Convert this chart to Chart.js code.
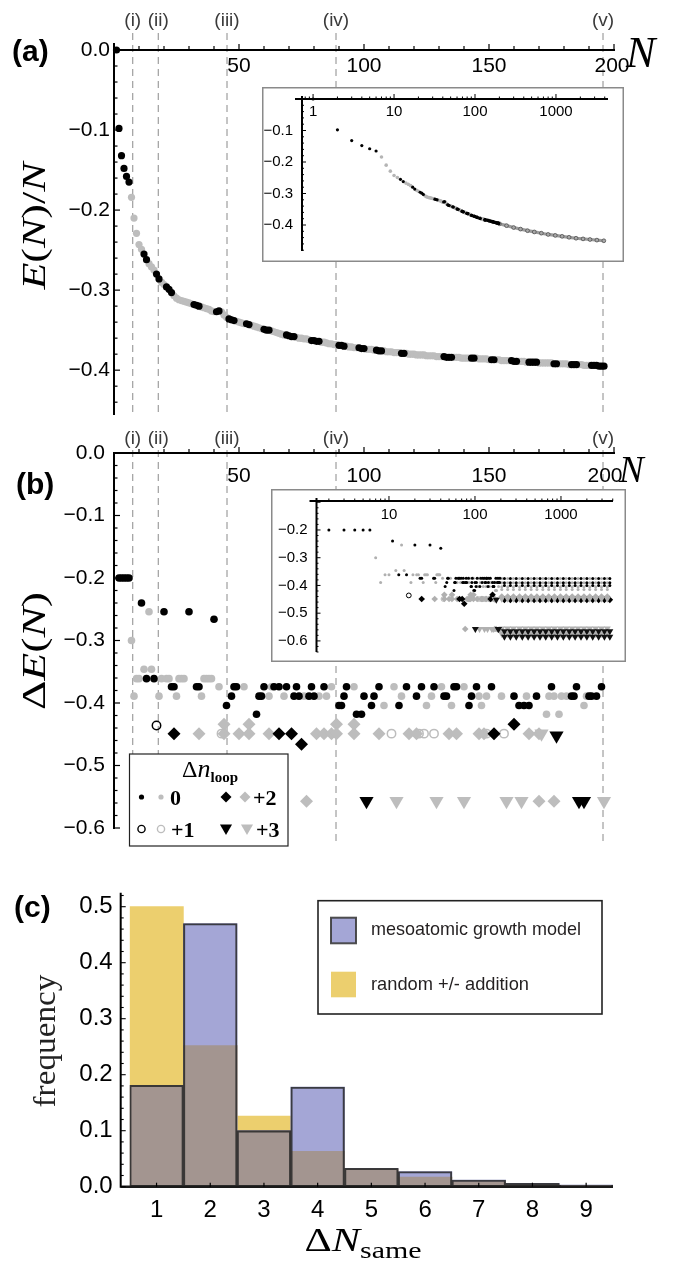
<!DOCTYPE html>
<html>
<head>
<meta charset="utf-8">
<script src="https://cdn.jsdelivr.net/npm/chart.js@4.4.1/dist/chart.umd.min.js"></script>
<style>
  html, body { margin: 0; padding: 0; background: #fff; }
  #page { position: relative; width: 682px; height: 1262px; overflow: hidden; background: #fff; }
  canvas { position: absolute; }
</style>
</head>
<body>
<div id="page">
  <canvas id="mainA" width="682" height="430" style="left:0;top:0"></canvas>
  <canvas id="insetA" width="362" height="175" style="left:262px;top:87px"></canvas>
  <canvas id="mainB" width="682" height="432" style="left:0;top:430px"></canvas>
  <canvas id="insetB" width="355" height="173" style="left:271px;top:489px"></canvas>
  <canvas id="histC" width="682" height="400" style="left:0;top:862px"></canvas>
</div>
<script>
const SANS = '"Liberation Sans", Arial, Helvetica, sans-serif';
const SERIF = '"Liberation Serif", "Times New Roman", serif';
const MINUS = '\u2212';

// ---- panel (a): energy per atom, one value per N starting at N = 1
const firstN = 1;
const energyPerAtom = [
  0, -0.098, -0.132, -0.148, -0.158, -0.165, -0.184, -0.210, -0.229, -0.243,
  -0.249, -0.255, -0.262, -0.267, -0.271, -0.275, -0.280, -0.286, -0.290, -0.293,
  -0.296, -0.299, -0.303, -0.307, -0.310, -0.312, -0.313, -0.314, -0.315, -0.316,
  -0.317, -0.318, -0.319, -0.320, -0.321, -0.322, -0.323, -0.324, -0.326, -0.327,
  -0.327, -0.326, -0.327, -0.331, -0.334, -0.336, -0.337, -0.338, -0.339, -0.340,
  -0.341, -0.342, -0.342, -0.343, -0.344, -0.345, -0.346, -0.347, -0.348, -0.349,
  -0.350, -0.350, -0.351, -0.352, -0.353, -0.354, -0.355, -0.356, -0.356, -0.357,
  -0.358, -0.358, -0.359, -0.360, -0.360, -0.361, -0.361, -0.362, -0.363, -0.363,
  -0.364, -0.364, -0.365, -0.365, -0.366, -0.367, -0.367, -0.368, -0.368, -0.369,
  -0.369, -0.370, -0.370, -0.371, -0.371, -0.372, -0.372, -0.372, -0.373, -0.373,
  -0.374, -0.374, -0.374, -0.375, -0.375, -0.376, -0.376, -0.376, -0.377, -0.377,
  -0.377, -0.378, -0.378, -0.378, -0.379, -0.379, -0.379, -0.380, -0.380, -0.380,
  -0.381, -0.381, -0.381, -0.381, -0.382, -0.382, -0.382, -0.382, -0.383, -0.383,
  -0.383, -0.383, -0.384, -0.384, -0.384, -0.384, -0.384, -0.384, -0.385, -0.385,
  -0.385, -0.385, -0.385, -0.385, -0.385, -0.386, -0.386, -0.386, -0.386, -0.387,
  -0.387, -0.387, -0.387, -0.387, -0.388, -0.388, -0.388, -0.388, -0.388, -0.389,
  -0.389, -0.389, -0.389, -0.389, -0.390, -0.390, -0.390, -0.390, -0.390, -0.391,
  -0.391, -0.391, -0.391, -0.391, -0.391, -0.392, -0.392, -0.392, -0.392, -0.392,
  -0.392, -0.393, -0.393, -0.393, -0.393, -0.393, -0.393, -0.394, -0.394, -0.394,
  -0.394, -0.394, -0.394, -0.395, -0.395, -0.395
];
// N ranges drawn black (the rest is gray)
const blackRuns = [[1, 6], [12, 13], [17, 18], [21, 23], [32, 34], [41, 42], [46, 48], [53, 54],
  [60, 62], [69, 72], [79, 82], [90, 92], [98, 100], [105, 107], [115, 116], [132, 135],
  [143, 144], [151, 152], [159, 161], [166, 169], [176, 177], [183, 185], [191, 196]];
// inset (a) continues to large N
const tailN = [200, 245, 300, 365, 445, 540, 660, 800, 980, 1190, 1450, 1770, 2160, 2630, 3200, 3900];
const tailEnergy = [-0.396, -0.402, -0.408, -0.413, -0.418, -0.422, -0.426, -0.430, -0.433, -0.436,
  -0.439, -0.442, -0.444, -0.446, -0.448, -0.450];

const guideN = [7.5, 17.7, 45.2, 88.8, 195.6];
const guideLabels = ['(i)', '(ii)', '(iii)', '(iv)', '(v)'];

// ---- panel (b): energy step per added atom, by loop change
const dotBlack = [[2, -0.2], [3, -0.2], [4, -0.2], [5, -0.2], [6, -0.2], [11, -0.24], [20, -0.254],
  [30, -0.254], [40, -0.266], [13, -0.361], [16, -0.361], [23, -0.374], [24, -0.374], [33, -0.374],
  [34, -0.374], [45, -0.404], [47, -0.389], [48, -0.374], [49, -0.374], [57, -0.418], [58, -0.389],
  [59, -0.389], [60, -0.374], [64, -0.374], [66, -0.374], [69, -0.374], [72, -0.389], [73, -0.374],
  [74, -0.389], [78, -0.389], [79, -0.374], [80, -0.389], [84, -0.374], [90, -0.404], [91, -0.404],
  [92, -0.389], [93, -0.374], [97, -0.418], [99, -0.418], [100, -0.389], [103, -0.404], [104, -0.389],
  [106, -0.374], [114, -0.404], [117, -0.374], [121, -0.389], [123, -0.374], [128, -0.374],
  [132, -0.389], [133, -0.389], [136, -0.374], [137, -0.374], [142, -0.404], [143, -0.389],
  [145, -0.374], [151, -0.374], [160, -0.389], [162, -0.404], [164, -0.404], [166, -0.404],
  [169, -0.389], [175, -0.374], [183, -0.389], [184, -0.389], [185, -0.374], [190, -0.389],
  [191, -0.389], [193, -0.389], [195, -0.374]];
const dotGray = [[7, -0.3], [8, -0.389], [9, -0.361], [10, -0.361], [12, -0.346], [14, -0.254],
  [15, -0.346], [18, -0.389], [19, -0.361], [21, -0.361], [22, -0.361], [25, -0.389], [26, -0.361],
  [27, -0.361], [28, -0.361], [35, -0.389], [36, -0.361], [37, -0.361], [38, -0.361], [39, -0.361],
  [42, -0.374], [52, -0.374], [62, -0.389], [63, -0.374], [68, -0.389], [76, -0.389], [82, -0.389],
  [85, -0.389], [87, -0.374], [96, -0.374], [108, -0.404], [112, -0.374], [115, -0.389],
  [125, -0.404], [127, -0.389], [131, -0.374], [135, -0.404], [140, -0.374], [146, -0.389],
  [147, -0.404], [149, -0.389], [155, -0.389], [165, -0.389], [173, -0.418], [174, -0.389],
  [176, -0.389], [178, -0.418], [179, -0.389], [181, -0.389], [188, -0.404], [189, -0.389]];
const ringBlack = [[17, -0.436]];
const ringGray = [[43, -0.449], [111, -0.449], [122, -0.449], [124, -0.449], [128, -0.449],
  [149, -0.449], [156, -0.449]];
const diamondBlack = [[24, -0.449], [66, -0.449], [71, -0.449], [75, -0.466], [152, -0.449], [160, -0.434]];
const diamondGray = [[34, -0.449], [44, -0.434], [44, -0.449], [50, -0.449], [54, -0.434], [54, -0.449],
  [62, -0.449], [81, -0.449], [84, -0.449], [87, -0.449], [89, -0.434], [89, -0.449], [96, -0.434],
  [96, -0.449], [106, -0.449], [118, -0.449], [121, -0.449], [134, -0.449], [137, -0.449],
  [146, -0.449], [148, -0.449], [166, -0.449], [170, -0.449], [77, -0.557], [170, -0.557], [176, -0.557]];
const triBlack = [[177, -0.452], [101, -0.557], [186, -0.557], [188, -0.557]];
const triGray = [[171, -0.449], [113, -0.557], [129, -0.557], [140, -0.557], [157, -0.557],
  [163, -0.557], [196, -0.557]];
// inset (b): dense bands at large N
const bandGrayN = [205, 240, 280, 330, 385, 450, 525, 615, 720, 840, 985, 1150, 1350, 1580, 1850, 2160, 2530, 2960, 3460];
const bandBlackN = [220, 258, 302, 355, 415, 487, 570, 665, 780, 910, 1065, 1250, 1460, 1710, 2000, 2340, 2740, 3200, 3700];
const bandDotGray = [-0.375, -0.39, -0.405, -0.415];
const bandDotBlack = [-0.375, -0.39, -0.40];
const bandDiamondGray = [-0.44];
const bandDiamondBlack = [-0.452];
const bandTriGray = [-0.448, -0.555, -0.575];
const bandTriBlack = [-0.565, -0.585];

// ---- panel (c): histogram of Delta N_same
const binLabels = ['1', '2', '3', '4', '5', '6', '7', '8', '9'];
const mesoGrowth = [0.181, 0.470, 0.100, 0.178, 0.033, 0.027, 0.012, 0.006, 0.003];
const randomAdd = [0.500, 0.252, 0.126, 0.063, 0.032, 0.017, 0.009, 0.004, 0.002];

// ---- tick labels
const aTicksX = [50, 100, 150, 200];
const aTicksY = [0, -0.1, -0.2, -0.3, -0.4];
const bTicksY = [0, -0.1, -0.2, -0.3, -0.4, -0.5, -0.6];
const insetATicksX = [1, 10, 100, 1000];
const insetBTicksX = [10, 100, 1000];
const insetATicksY = [-0.1, -0.2, -0.3, -0.4];
const insetBTicksY = [-0.2, -0.3, -0.4, -0.5, -0.6];
const cTicksY = [0, 0.1, 0.2, 0.3, 0.4, 0.5];

const GRAY = '#bdbdbd';

// ---------- helpers ----------
const fmt1 = v => (v < -1e-9 ? MINUS : '') + Math.abs(v).toFixed(1);
const isMajor = v => Math.abs(v * 10 - Math.round(v * 10)) < 1e-6;

function linearTicks(from, to, step) {
  const out = [];
  const n = Math.round((to - from) / step);
  for (let i = 0; i <= n; i++) out.push(+(from + i * step).toFixed(6));
  return out;
}

function seg(ctx, x1, y1, x2, y2, w, color, dash) {
  ctx.save();
  ctx.beginPath();
  ctx.lineWidth = w;
  ctx.strokeStyle = color;
  ctx.setLineDash(dash || []);
  ctx.moveTo(x1, y1);
  ctx.lineTo(x2, y2);
  ctx.stroke();
  ctx.restore();
}

function text(ctx, t, x, y, font, align, base, color) {
  ctx.save();
  ctx.font = font;
  ctx.textAlign = align || 'left';
  ctx.textBaseline = base || 'alphabetic';
  ctx.fillStyle = color || '#000';
  ctx.fillText(t, x, y);
  ctx.restore();
}

// text made of several font runs, centred on (cx, baseline cy), optionally squeezed to width
function runs(ctx, parts, cx, cy, width, rot, color) {
  ctx.save();
  ctx.translate(cx, cy);
  if (rot) ctx.rotate(rot);
  let w = 0;
  parts.forEach(p => { ctx.font = p.font; w += ctx.measureText(p.t).width; });
  if (width) ctx.scale(width / w, 1);
  ctx.fillStyle = color || '#000';
  ctx.textBaseline = 'alphabetic';
  ctx.textAlign = 'left';
  let x = -w / 2;
  parts.forEach(p => {
    ctx.font = p.font;
    ctx.fillText(p.t, x, p.dy || 0);
    x += ctx.measureText(p.t).width;
  });
  ctx.restore();
}

function mark(ctx, shape, x, y, r, fill, stroke, rot) {
  ctx.save();
  ctx.fillStyle = fill;
  ctx.strokeStyle = stroke || fill;
  ctx.lineWidth = stroke ? 1.4 : 0;
  Chart.helpers.drawPoint(ctx, { pointStyle: shape, radius: r, rotation: rot || 0, borderWidth: stroke ? 1.4 : 0 }, x, y);
  ctx.restore();
}

const lin = (min, max) => ({ type: 'linear', min, max, bounds: 'data', display: false });
const logx = (min, max) => ({ type: 'logarithmic', min, max, bounds: 'data', display: false });

function baseOptions(pad, scales) {
  return {
    responsive: false,
    animation: false,
    events: [],
    layout: { padding: pad },
    plugins: { legend: { display: false }, tooltip: { enabled: false } },
    scales
  };
}

const toXY = arr => arr.map(p => ({ x: p[0], y: p[1] }));

function marks(arr, shape, r, fill, order, opts) {
  const o = opts || {};
  return {
    data: toXY(arr),
    pointStyle: shape,
    pointRotation: o.rot || 0,
    pointRadius: r,
    pointBackgroundColor: o.hollow ? 'rgba(0,0,0,0)' : fill,
    pointBorderColor: fill,
    pointBorderWidth: o.hollow ? (o.bw || 1.5) : 0,
    clip: false,
    order
  };
}

const bands = (ns, levels) => levels.flatMap(l => ns.map(n => [n, l]));

// ---------- panel (a) ----------
const isBlack = n => blackRuns.some(r => n >= r[0] && n <= r[1]);
const aPairs = energyPerAtom.map((e, i) => [firstN + i, e]);
const aBlack = aPairs.filter(p => isBlack(p[0]));
const aGray = aPairs.filter(p => !isBlack(p[0]));

const panelA = {
  id: 'panelA',
  beforeDatasetsDraw(chart) {
    const { ctx, scales: { x } } = chart;
    guideN.forEach(n => {
      const p = x.getPixelForValue(n);
      seg(ctx, p, 33, p, 417, 1, '#8a8a8a', [7, 5]);
    });
  },
  afterDatasetsDraw(chart) {
    const { ctx, scales: { x, y } } = chart;
    const ox = x.getPixelForValue(0), oy = y.getPixelForValue(0);
    const yb = y.getPixelForValue(y.min), xr = x.getPixelForValue(200);
    seg(ctx, ox, oy - 7, ox, yb, 2, '#000');
    seg(ctx, ox - 1, oy, xr + 1, oy, 2, '#000');
    linearTicks(10, 200, 10).forEach(v => {
      const p = x.getPixelForValue(v);
      seg(ctx, p, oy, p, oy - (aTicksX.includes(v) ? 6 : 4), 1.2, '#000');
    });
    aTicksX.forEach(v => text(ctx, String(v), x.getPixelForValue(v) - (v === 200 ? 2 : 0), oy + 22, `21px ${SANS}`, 'center'));
    linearTicks(-0.44, 0, 0.02).forEach(v => {
      const p = y.getPixelForValue(v);
      seg(ctx, ox, p, ox + (isMajor(v) ? 6 : 3.5), p, 1.2, '#000');
    });
    aTicksY.forEach(v => text(ctx, fmt1(v), ox - 4, y.getPixelForValue(v), `21px ${SANS}`, 'right', 'middle'));
    guideN.forEach((n, i) => text(ctx, guideLabels[i], x.getPixelForValue(n), 26, `19px ${SANS}`, 'center', 'alphabetic', '#3a3a3a'));
    text(ctx, '(a)', 12, 61, `bold 30px ${SANS}`);
    text(ctx, 'N', 626, 67, `italic 44px ${SERIF}`);
    runs(ctx, [
      { t: 'E', font: `italic 34px ${SERIF}` }, { t: '(', font: `34px ${SERIF}` },
      { t: 'N', font: `italic 34px ${SERIF}` }, { t: ')', font: `34px ${SERIF}` },
      { t: '/', font: `34px ${SERIF}` }, { t: 'N', font: `italic 34px ${SERIF}` }
    ], 45, 226, 127, -Math.PI / 2);
  }
};

new Chart(document.getElementById('mainA'), {
  type: 'scatter',
  data: {
    datasets: [
      marks(aBlack, 'circle', 3.6, '#000', 1),
      marks(aGray, 'circle', 3.6, GRAY, 2)
    ]
  },
  options: baseOptions({ left: 114, right: 68, top: 50, bottom: 15 }, { x: lin(0, 200), y: lin(-0.456, 0) }),
  plugins: [panelA]
});

// ---------- insets ----------
function insetFrame(cfg) {
  return {
    id: 'insetFrame',
    beforeDraw(chart) {
      const { ctx, width, height } = chart;
      ctx.save();
      ctx.fillStyle = '#fff';
      ctx.fillRect(0, 0, width, height);
      ctx.strokeStyle = '#8a8a8a';
      ctx.lineWidth = 1.5;
      ctx.strokeRect(0.75, 0.75, width - 1.5, height - 1.5);
      ctx.restore();
    },
    afterDatasetsDraw(chart) {
      const { ctx, chartArea: ca, scales: { x, y } } = chart;
      const ox = ca.left, oy = ca.top;
      seg(ctx, ox - 7, oy, ca.right, oy, 2, '#000');
      seg(ctx, ox, oy - 3, ox, ca.bottom, 2, '#000');
      [0.1, 1, 10, 100, 1000].forEach(d => {
        for (let m = 1; m <= 9; m++) {
          const v = m * d;
          if (v < x.min || v > x.max) continue;
          const p = x.getPixelForValue(v);
          seg(ctx, p, oy, p, oy - (m === 1 ? 5 : 2.5), 1, '#000');
        }
      });
      cfg.xTicks.forEach(v => text(ctx, String(v), x.getPixelForValue(v), oy + cfg.xLabelDy, `15px ${SANS}`, 'center', 'middle'));
      linearTicks(-0.7, -0.02, 0.02).filter(v => v >= y.min && v <= y.max).forEach(v => {
        const p = y.getPixelForValue(v);
        seg(ctx, ox, p, ox + (isMajor(v) ? 4 : 2), p, 1, '#000');
      });
      cfg.yTicks.forEach(v => text(ctx, fmt1(v), ox - 9, y.getPixelForValue(v), `15px ${SANS}`, 'right', 'middle'));
    }
  };
}

const tailPairs = tailN.map((n, i) => [n, tailEnergy[i]]);

new Chart(document.getElementById('insetA'), {
  type: 'scatter',
  data: {
    datasets: [
      marks(aBlack, 'circle', 1.6, '#000', 1),
      marks(aGray, 'circle', 1.8, '#b5b5b5', 2),
      Object.assign(marks(tailPairs, 'circle', 1.9, '#a8a8a8', 3, { hollow: false }), {
        showLine: true, borderColor: '#9c9c9c', borderWidth: 3.2,
        pointBorderColor: '#444', pointBorderWidth: 0.7
      })
    ]
  },
  options: baseOptions({ left: 40, right: 16, top: 12, bottom: 11 }, { x: logx(0.73, 4390), y: lin(-0.4825, 0) }),
  plugins: [insetFrame({ xTicks: insetATicksX, yTicks: insetATicksY, xLabelDy: 13 })]
});

// ---------- panel (b) ----------
function legendB(ctx) {
  const L = 129.5, T = 324, R = 288, B = 416;
  ctx.save();
  ctx.fillStyle = '#fff';
  ctx.fillRect(L, T, R - L, B - T);
  ctx.strokeStyle = '#222';
  ctx.lineWidth = 1.2;
  ctx.strokeRect(L, T, R - L, B - T);
  ctx.restore();
  runs(ctx, [
    { t: '\u0394', font: `24px ${SERIF}` },
    { t: 'n', font: `italic 26px ${SERIF}` },
    { t: 'loop', font: `bold 15px ${SERIF}`, dy: 5 }
  ], 210, 347);
  mark(ctx, 'circle', 141.5, 367, 2.6, '#000');
  mark(ctx, 'circle', 161, 367, 2.6, GRAY);
  text(ctx, '0', 170, 375, `bold 22px ${SERIF}`);
  mark(ctx, 'rectRot', 226, 367, 5.5, '#000');
  mark(ctx, 'rectRot', 245, 367, 5.5, GRAY);
  text(ctx, '+2', 253, 375, `bold 22px ${SERIF}`);
  mark(ctx, 'circle', 141.5, 399, 3.6, 'rgba(0,0,0,0)', '#000');
  mark(ctx, 'circle', 161, 399, 3.6, 'rgba(0,0,0,0)', GRAY);
  text(ctx, '+1', 171, 407, `bold 22px ${SERIF}`);
  mark(ctx, 'triangle', 226, 398, 7, '#000', null, 180);
  mark(ctx, 'triangle', 247, 398, 7, GRAY, null, 180);
  text(ctx, '+3', 256, 407, `bold 22px ${SERIF}`);
}

const panelB = {
  id: 'panelB',
  beforeDatasetsDraw(chart) {
    const { ctx, scales: { x } } = chart;
    guideN.forEach(n => {
      const p = x.getPixelForValue(n);
      seg(ctx, p, 20, p, 415, 1, '#8a8a8a', [7, 5]);
    });
  },
  afterDatasetsDraw(chart) {
    const { ctx, scales: { x, y } } = chart;
    const ox = x.getPixelForValue(0), oy = y.getPixelForValue(0);
    const yb = y.getPixelForValue(-0.6), xr = x.getPixelForValue(200);
    seg(ctx, ox, oy, ox, yb + 1, 2, '#000');
    seg(ctx, ox - 1, oy, xr + 1, oy, 2, '#000');
    linearTicks(10, 200, 10).forEach(v => {
      const p = x.getPixelForValue(v);
      seg(ctx, p, oy, p, oy - (aTicksX.includes(v) ? 6 : 4), 1.2, '#000');
    });
    aTicksX.forEach(v => text(ctx, String(v), x.getPixelForValue(v) - (v === 200 ? 9 : 0), oy + 29, `21px ${SANS}`, 'center'));
    linearTicks(-0.6, 0, 0.02).forEach(v => {
      const p = y.getPixelForValue(v);
      seg(ctx, ox, p, ox + (isMajor(v) ? 6 : 3.5), p, 1.2, '#000');
    });
    bTicksY.forEach(v => text(ctx, fmt1(v), ox - 9, y.getPixelForValue(v), `21px ${SANS}`, 'right', 'middle'));
    guideN.forEach((n, i) => text(ctx, guideLabels[i], x.getPixelForValue(n), 14, `19px ${SANS}`, 'center', 'alphabetic', '#3a3a3a'));
    text(ctx, '(b)', 16, 64, `bold 30px ${SANS}`);
    text(ctx, 'N', 619, 52, `italic 37px ${SERIF}`);
    runs(ctx, [
      { t: '\u0394', font: `34px ${SERIF}` }, { t: 'E', font: `italic 34px ${SERIF}` },
      { t: '(', font: `34px ${SERIF}` }, { t: 'N', font: `italic 34px ${SERIF}` },
      { t: ')', font: `34px ${SERIF}` }
    ], 45, 221, 118, -Math.PI / 2);
    legendB(ctx);
  }
};

new Chart(document.getElementById('mainB'), {
  type: 'scatter',
  data: {
    datasets: [
      marks(dotBlack, 'circle', 3.8, '#000', 3),
      marks(dotGray, 'circle', 3.8, GRAY, 8),
      marks(ringBlack, 'circle', 4.2, '#000', 2, { hollow: true }),
      marks(ringGray, 'circle', 4.2, GRAY, 6, { hollow: true }),
      marks(diamondBlack, 'rectRot', 6.5, '#000', 4),
      marks(diamondGray, 'rectRot', 6.5, GRAY, 7),
      marks(triBlack, 'triangle', 8.2, '#000', 1, { rot: 180 }),
      marks(triGray, 'triangle', 8.2, GRAY, 5, { rot: 180 })
    ]
  },
  options: baseOptions({ left: 114, right: 68, top: 23, bottom: 34 }, { x: lin(0, 200), y: lin(-0.6, 0) }),
  plugins: [panelB]
});

new Chart(document.getElementById('insetB'), {
  type: 'scatter',
  data: {
    datasets: [
      marks(dotGray.concat(bands(bandGrayN, bandDotGray)), 'circle', 1.5, '#b0b0b0', 8),
      marks(dotBlack.concat(bands(bandBlackN, bandDotBlack)), 'circle', 1.5, '#000', 7),
      marks(ringGray, 'circle', 2.4, GRAY, 6, { hollow: true, bw: 1 }),
      marks(ringBlack, 'circle', 2.4, '#000', 5, { hollow: true, bw: 1 }),
      marks(diamondGray.concat(bands(bandGrayN, bandDiamondGray)), 'rectRot', 3.3, '#b0b0b0', 4),
      marks(diamondBlack.concat(bands(bandBlackN, bandDiamondBlack)), 'rectRot', 3.3, '#000', 3),
      marks(triGray.concat(bands(bandGrayN, bandTriGray)), 'triangle', 4, '#b0b0b0', 2, { rot: 180 }),
      marks(triBlack.concat(bands(bandBlackN, bandTriBlack)), 'triangle', 4, '#111', 1, { rot: 180 })
    ]
  },
  options: baseOptions({ left: 45.5, right: 13, top: 12, bottom: 10 }, { x: logx(1.436, 4027), y: lin(-0.64, -0.0955) }),
  plugins: [insetFrame({ xTicks: insetBTicksX, yTicks: insetBTicksY, xLabelDy: 14 })]
});

// ---------- panel (c) ----------
const overlap = mesoGrowth.map((v, i) => Math.min(v, randomAdd[i]));
const barBase = { barPercentage: 1, categoryPercentage: 1, grouped: false, borderWidth: 0 };

const panelC = {
  id: 'panelC',
  afterDatasetsDraw(chart) {
    const { ctx, chartArea: ca, scales: { x, y } } = chart;
    const ax = ca.left - 9;
    const oy = y.getPixelForValue(0);
    seg(ctx, ax, y.getPixelForValue(0.525), ax, oy + 1, 2, '#000');
    seg(ctx, ax, oy, ca.right, oy, 2.4, '#1a1a1a');
    linearTicks(0, 0.52, 0.02).forEach(v => {
      const p = y.getPixelForValue(v);
      seg(ctx, ax, p, ax + (isMajor(v) ? 5 : 3), p, 1.1, '#000');
    });
    cTicksY.forEach(v => text(ctx, v.toFixed(1), ax - 8, y.getPixelForValue(v), `24px ${SANS}`, 'right', 'middle'));
    binLabels.forEach((l, i) => {
      const p = x.getPixelForValue(i);
      seg(ctx, p, oy, p, oy - 4, 1.2, '#000');
      text(ctx, l, p, 355, `24px ${SANS}`, 'center');
    });
    text(ctx, '(c)', 14, 55, `bold 30px ${SANS}`);
    runs(ctx, [{ t: 'frequency', font: `32px ${SERIF}` }], 55, 179, 133, -Math.PI / 2, '#222');
    runs(ctx, [
      { t: '\u0394', font: `34px ${SERIF}` }, { t: 'N', font: `italic 34px ${SERIF}` },
      { t: 'same', font: `24px ${SERIF}`, dy: 7 }
    ], 363, 389, 117);
    // legend
    ctx.save();
    ctx.fillStyle = '#fff';
    ctx.fillRect(318, 38.7, 284, 113.3);
    ctx.strokeStyle = '#222';
    ctx.lineWidth = 1.6;
    ctx.strokeRect(318, 38.7, 284, 113.3);
    ctx.fillStyle = '#A4A6D6';
    ctx.fillRect(331, 55.7, 25, 25.6);
    ctx.strokeStyle = 'rgba(60,60,60,0.9)';
    ctx.lineWidth = 2;
    ctx.strokeRect(331, 55.7, 25, 25.6);
    ctx.fillStyle = '#ECCF6E';
    ctx.fillRect(331, 109.7, 25, 25.6);
    ctx.restore();
    runs(ctx, [{ t: 'mesoatomic growth model', font: `19px ${SANS}` }], 371 + 105, 73, 210, 0, '#231f20');
    runs(ctx, [{ t: 'random +/- addition', font: `19px ${SANS}` }], 371 + 79, 128, 158, 0, '#231f20');
  }
};

new Chart(document.getElementById('histC'), {
  type: 'bar',
  data: {
    labels: binLabels,
    datasets: [
      Object.assign({ data: randomAdd, backgroundColor: '#ECCF6E', order: 4 }, barBase),
      Object.assign({ data: mesoGrowth, backgroundColor: '#A4A6D6', order: 3 }, barBase),
      Object.assign({ data: overlap, backgroundColor: '#A39590', order: 2 }, barBase),
      Object.assign({}, barBase, {
        data: mesoGrowth, backgroundColor: 'rgba(0,0,0,0)', order: 1,
        borderWidth: 1.4, borderColor: 'rgba(40,40,40,0.85)', borderSkipped: false
      })
    ]
  },
  options: baseOptions({ left: 129.7, right: 69, top: 30.7, bottom: 75.3 }, {
    x: { type: 'category', offset: true, display: false },
    y: lin(0, 0.525)
  }),
  plugins: [panelC]
});
</script>
</body>
</html>
